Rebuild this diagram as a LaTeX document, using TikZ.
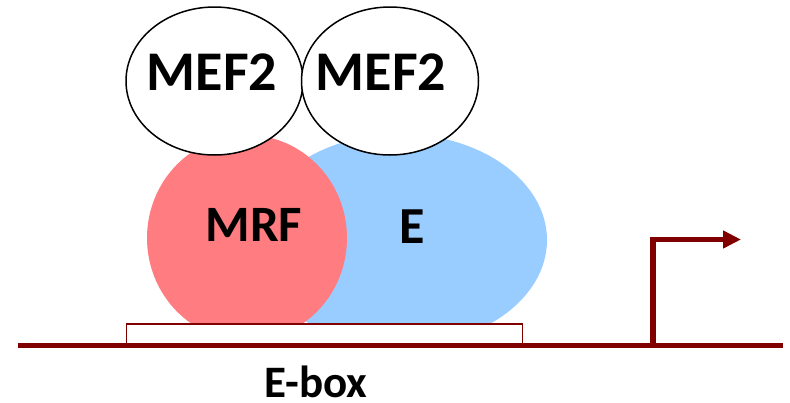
\documentclass[tikz,border=0pt]{standalone}
\usepackage{fontspec}
\setmainfont{Carlito}
\usetikzlibrary{shapes.geometric,arrows.meta}
\definecolor{mrfred}{HTML}{FF7C80}
\definecolor{eblue}{HTML}{99CCFF}
\definecolor{dna}{HTML}{800000}
\begin{document}
\begin{tikzpicture}[x=1pt,y=-1pt,
  blob/.style={ellipse,inner sep=0pt,draw=none},
  mefblob/.style={ellipse,inner sep=0pt,draw=black,line width=1.5pt,fill=white,
    minimum width=177pt,minimum height=148pt},
  lbl/.style={anchor=base,inner sep=0pt,text depth=0pt},
  dnaline/.style={draw=dna,line width=5pt},
]
\useasboundingbox (0,0) rectangle (790,402);
% E protein and MRF
\node[blob,fill=eblue,minimum width=294pt,minimum height=212pt] (E) at (400,240) {};
\node[blob,fill=mrfred,minimum width=200pt,minimum height=206pt] (MRF) at (247,238) {};
% MEF2 dimer
\node[mefblob] (mefA) at (214.5,81) {};
\node[mefblob] (mefB) at (390,81) {};
% E-box on the DNA
\node[draw=dna,line width=1.5pt,fill=white,minimum width=396pt,minimum height=22pt,
  inner sep=0pt] (ebox) at (324.5,335) {};
\coordinate (dnaL) at (18,345.5);
\coordinate (dnaR) at (783,345.5);
\draw[dnaline] (dnaL) -- (dnaR);
% transcription start arrow
\coordinate (tss) at (653,345.5);
\coordinate (tip) at (741,239.5);
\draw[dna,line width=5.5pt,-{Triangle[length=18pt,width=17pt]}] (tss) |- (tip);
% labels
\node[lbl,font=\fontsize{56}{60}\selectfont\bfseries] (tA) at (212,90) {MEF2};
\node[lbl,font=\fontsize{56}{60}\selectfont\bfseries] (tB) at (381,90) {MEF2};
\node[lbl,font=\fontsize{51}{56}\selectfont\bfseries] (tM) at (254,241) {MRF};
\node[lbl,font=\fontsize{52}{56}\selectfont\bfseries] (tE) at (412,243) {E};
\node[lbl,font=\fontsize{45}{50}\selectfont\bfseries] (tX) at (316,397) {E-box};
\end{tikzpicture}
\end{document}
